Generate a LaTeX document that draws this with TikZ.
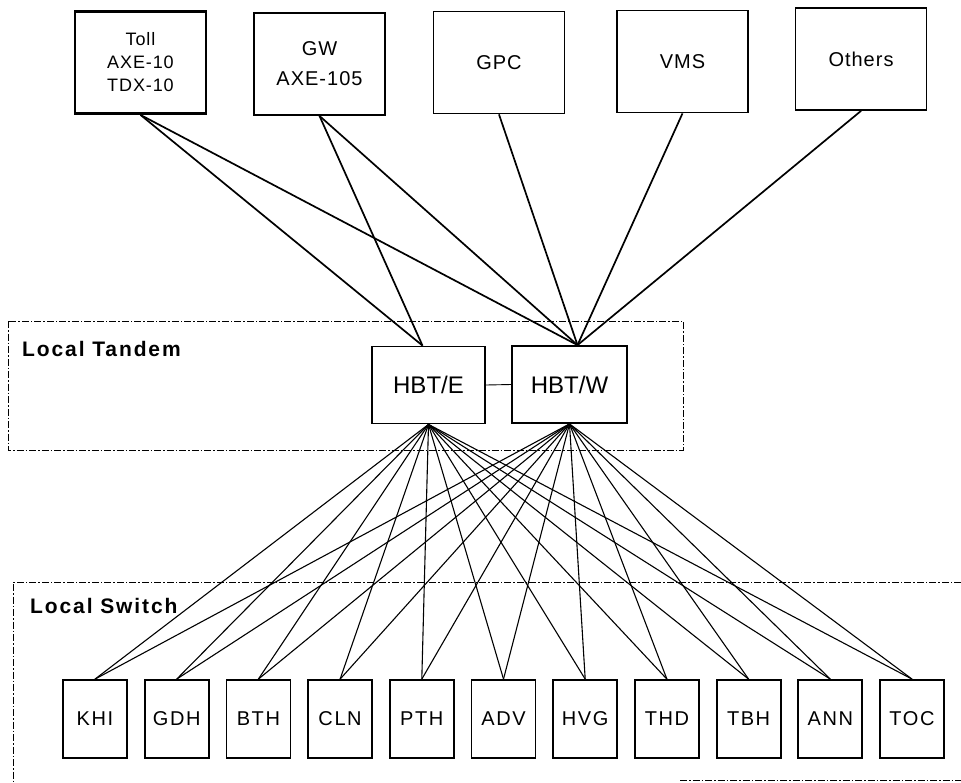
\documentclass[tikz,border=0pt]{standalone}
\usepackage{fontspec}
\setmainfont{Liberation Sans}
\newfontfamily\topfont[LetterSpace=5]{Liberation Sans}
\newfontfamily\swfont[LetterSpace=8]{Liberation Sans}
\newfontfamily\grpfont[LetterSpace=9]{Liberation Sans Bold}
\begin{document}
\begin{tikzpicture}[x=1pt,y=-1pt,
  box/.style={draw, line width=1.8pt, inner sep=0pt, align=center},
  topbox/.style={box, minimum width=131pt, minimum height=102pt,
    font=\topfont\fontsize{20}{30}\selectfont},
  tandembox/.style={box, minimum height=77pt,
    font=\fontsize{24}{28}\selectfont},
  swbox/.style={box, minimum width=64pt, minimum height=78pt,
    font=\swfont\fontsize{20}{24}\selectfont},
  uplink/.style={line width=1.7pt},
  fan/.style={line width=1.1pt},
  grouping/.style={line width=0.8pt, dash pattern=on 7pt off 2pt on 1.5pt off 2pt},
  grouplabel/.style={anchor=base west, inner sep=0pt, font=\grpfont\fontsize{21}{24}\selectfont}]
\useasboundingbox (0,0) rectangle (961,782);

% group frames
\draw[grouping] (8,321) rectangle (683,450);
\draw[grouping] (961,582) -- (13,582) -- (13,782);
\draw[grouping] (680,780) -- (961,780);
\node[grouplabel] (lt) at (22,356) {Local Tandem};
\node[grouplabel] (ls) at (30,613) {Local Switch};

% upper exchanges
\node[topbox, line width=2.8pt, font=\topfont\fontsize{18}{23}\selectfont] (toll) at (140.5,62.5) {Toll\\AXE-10\\TDX-10};
\node[topbox] (gw) at (319.5,64) {GW\\AXE-105};
\node[topbox] (gpc) at (499,62.5) {GPC};
\node[topbox] (vms) at (682.5,61.5) {VMS};
\node[topbox] (others) at (861,59) {Others};

% tandem pair
\node[tandembox, minimum width=113pt] (hbte) at (428.5,385) {HBT/E};
\node[tandembox, minimum width=115pt] (hbtw) at (569.5,384.5) {HBT/W};
\draw[line width=0.9pt] (hbte.east) -- (hbtw.west);

% upper links
\draw[uplink] (toll.south) -- ([xshift=-6pt]hbte.north);
\draw[uplink] (toll.south) -- ([xshift=8pt]hbtw.north);
\draw[uplink] (gw.south) -- ([xshift=-6pt]hbte.north);
\draw[uplink] (gw.south) -- ([xshift=8pt]hbtw.north);
\draw[uplink] (gpc.south) -- ([xshift=8pt]hbtw.north);
\draw[uplink] (vms.south) -- ([xshift=8pt]hbtw.north);
\draw[uplink] (others.south) -- ([xshift=8pt]hbtw.north);

% local switches
\foreach \n/\t [count=\i from 0] in {khi/KHI,gdh/GDH,bth/BTH,cln/CLN,pth/PTH,adv/ADV,hvg/HVG,thd/THD,tbh/TBH,ann/ANN,toc/TOC}
  \node[swbox] (\n) at ({95+81.7*\i},719) {\t};

\foreach \n in {khi,gdh,bth,cln,pth,adv,hvg,thd,tbh,ann,toc} {
  \draw[fan] (hbte.south) -- (\n.north);
  \draw[fan] (hbtw.south) -- (\n.north);
}
\end{tikzpicture}
\end{document}
